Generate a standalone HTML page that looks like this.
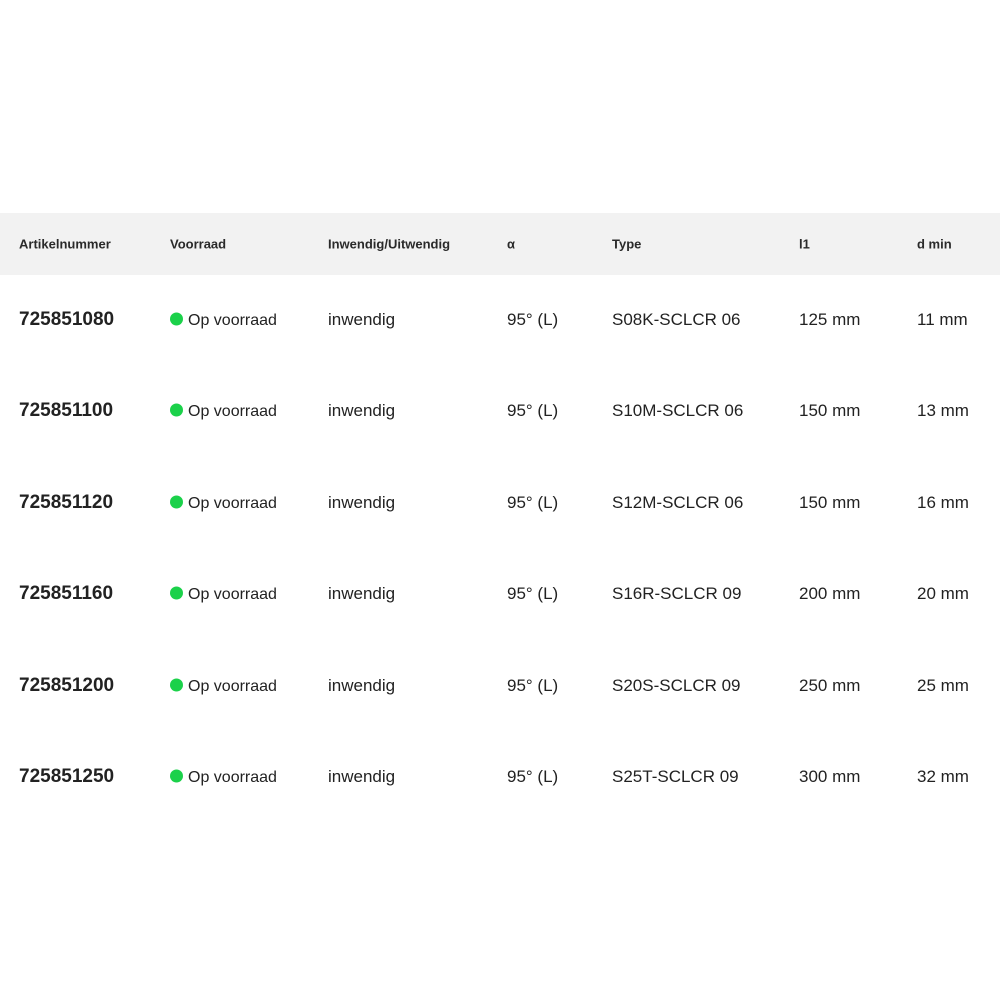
<!DOCTYPE html>
<html><head><style>
body{margin:0;width:1000px;height:1000px;background:#fff;position:relative;font-family:"Liberation Sans",sans-serif;color:#222;overflow:hidden}
.hdr{position:absolute;left:0;top:213px;width:1000px;height:62px;background:#f2f2f2}
.t{position:absolute;white-space:nowrap;transform:translateY(-50%)}
.h{font-size:13px;font-weight:bold;color:#2a2a2a}
.b{font-size:17px}
.n{font-size:19px;font-weight:bold}
.dot{position:absolute;width:13px;height:13px;border-radius:50%;background:#1bd14a;transform:translateY(-50%)}
</style></head><body>
<div class="hdr"></div>
<div class="t h" style="left:19px;top:244px">Artikelnummer</div>
<div class="t h" style="left:170px;top:244px">Voorraad</div>
<div class="t h" style="left:328px;top:244px">Inwendig/Uitwendig</div>
<div class="t h" style="left:507px;top:244px">α</div>
<div class="t h" style="left:612px;top:244px">Type</div>
<div class="t h" style="left:799px;top:244px">l1</div>
<div class="t h" style="left:917px;top:244px">d min</div>
<div id="rows"></div>
<script>
var d=[["725851080","S08K-SCLCR 06","125 mm","11 mm"],["725851100","S10M-SCLCR 06","150 mm","13 mm"],["725851120","S12M-SCLCR 06","150 mm","16 mm"],["725851160","S16R-SCLCR 09","200 mm","20 mm"],["725851200","S20S-SCLCR 09","250 mm","25 mm"],["725851250","S25T-SCLCR 09","300 mm","32 mm"]];
var h="";
d.forEach(function(r,i){var y=320+i*91.4;
h+='<div class="t n" style="left:19px;top:'+y+'px">'+r[0]+'</div>';
h+='<div class="dot" style="left:170px;top:'+(y-1)+'px"></div>';
h+='<div class="t b" style="left:188px;top:'+(y+1)+'px;font-size:16px">Op voorraad</div>';
h+='<div class="t b" style="left:328px;top:'+y+'px">inwendig</div>';
h+='<div class="t b" style="left:507px;top:'+y+'px">95° (L)</div>';
h+='<div class="t b" style="left:612px;top:'+y+'px">'+r[1]+'</div>';
h+='<div class="t b" style="left:799px;top:'+y+'px">'+r[2]+'</div>';
h+='<div class="t b" style="left:917px;top:'+y+'px">'+r[3]+'</div>';});
document.getElementById("rows").innerHTML=h;
</script>
</body></html>
